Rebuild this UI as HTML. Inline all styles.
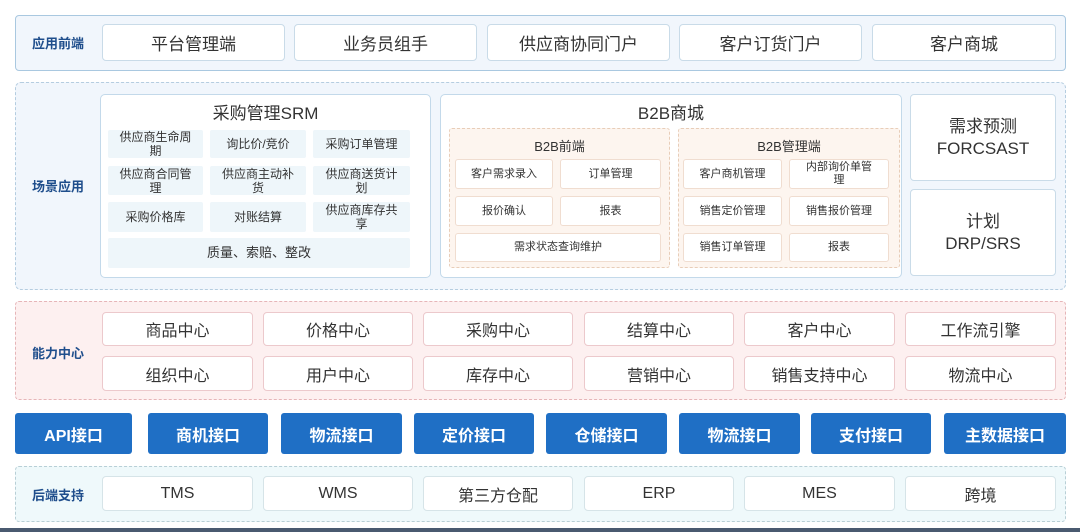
<!DOCTYPE html>
<html><head><meta charset="utf-8"><style>
*{margin:0;padding:0;box-sizing:border-box}
body{width:1080px;height:532px;background:#fff;position:relative;overflow:hidden;font-family:"Liberation Sans","Noto Sans CJK SC",sans-serif;color:#333}
.a{position:absolute;display:flex;align-items:center;justify-content:center;text-align:center}
.c{position:absolute}
.w{background:#fff;border:1px solid #c9dbe8;border-radius:4px;font-size:17px;color:#333}
.lab{font-size:13px;font-weight:bold;color:#1f4e8c}
.s{background:#eef6fa;border-radius:2px;font-size:12px;line-height:14px;color:#333;padding:0 8px}
.o{background:#fff;border:1px solid #f0ddd0;border-radius:3px;font-size:11px;line-height:13px;padding:0 8px}
.b{background:#1f6fc5;color:#fff;border-radius:3px;font-size:16px;font-weight:bold}
.p{background:#fff;border:1px solid #ecc9cc;border-radius:4px;font-size:16px}
.t{background:#fff;border:1px solid #d6e4e8;border-radius:4px;font-size:16px}
</style></head><body>
<div class="c" style="left:15px;top:15px;width:1051px;height:56px;background:#f1f6fc;border:1px solid #a9c8e0;border-radius:4px"></div>
<div class="a lab" style="left:15px;top:24px;width:86px;height:37px">应用前端</div>
<div class="a w" style="left:102px;top:24px;width:183px;height:37px">平台管理端</div>
<div class="a w" style="left:294px;top:24px;width:183px;height:37px">业务员组手</div>
<div class="a w" style="left:487px;top:24px;width:183px;height:37px">供应商协同门户</div>
<div class="a w" style="left:679px;top:24px;width:183px;height:37px">客户订货门户</div>
<div class="a w" style="left:872px;top:24px;width:184px;height:37px">客户商城</div>

<div class="c" style="left:15px;top:82px;width:1051px;height:208px;background:#f1f6fc;border:1px dashed #b5cde0;border-radius:6px"></div>
<div class="a lab" style="left:15px;top:170px;width:86px;height:30px">场景应用</div>
<div class="c" style="left:100px;top:94px;width:331px;height:184px;background:#fff;border:1px solid #c3d9ea;border-radius:5px"></div>
<div class="a" style="left:100px;top:100px;width:331px;height:22px;font-size:17px">采购管理SRM</div>
<div class="a s" style="left:108px;top:130px;width:95px;height:28px">供应商生命周期</div>
<div class="a s" style="left:210px;top:130px;width:96px;height:28px">询比价/竞价</div>
<div class="a s" style="left:313px;top:130px;width:97px;height:28px">采购订单管理</div>
<div class="a s" style="left:108px;top:166px;width:95px;height:29px">供应商合同管理</div>
<div class="a s" style="left:210px;top:166px;width:96px;height:29px;padding:0 12px">供应商主动补货</div>
<div class="a s" style="left:313px;top:166px;width:97px;height:29px">供应商送货计划</div>
<div class="a s" style="left:108px;top:202px;width:95px;height:30px">采购价格库</div>
<div class="a s" style="left:210px;top:202px;width:96px;height:30px">对账结算</div>
<div class="a s" style="left:313px;top:202px;width:97px;height:30px">供应商库存共享</div>
<div class="a s" style="left:108px;top:238px;width:302px;height:30px;font-size:13px">质量、索赔、整改</div>

<div class="c" style="left:440px;top:94px;width:462px;height:184px;background:#fff;border:1px solid #c3d9ea;border-radius:5px"></div>
<div class="a" style="left:440px;top:100px;width:462px;height:22px;font-size:17px">B2B商城</div>
<div class="c" style="left:449px;top:128px;width:221px;height:140px;background:#fdf5ef;border:1px dashed #e8cdb8;border-radius:3px"></div>
<div class="a" style="left:449px;top:136px;width:221px;height:18px;font-size:13px">B2B前端</div>
<div class="a o" style="left:455px;top:159px;width:98px;height:30px">客户需求录入</div>
<div class="a o" style="left:560px;top:159px;width:101px;height:30px">订单管理</div>
<div class="a o" style="left:455px;top:196px;width:98px;height:30px">报价确认</div>
<div class="a o" style="left:560px;top:196px;width:101px;height:30px">报表</div>
<div class="a o" style="left:455px;top:233px;width:206px;height:29px">需求状态查询维护</div>
<div class="c" style="left:678px;top:128px;width:222px;height:140px;background:#fdf5ef;border:1px dashed #e8cdb8;border-radius:3px"></div>
<div class="a" style="left:678px;top:136px;width:222px;height:18px;font-size:13px">B2B管理端</div>
<div class="a o" style="left:683px;top:159px;width:99px;height:30px">客户商机管理</div>
<div class="a o" style="left:789px;top:159px;width:100px;height:30px;padding:0 14px">内部询价单管理</div>
<div class="a o" style="left:683px;top:196px;width:99px;height:30px">销售定价管理</div>
<div class="a o" style="left:789px;top:196px;width:100px;height:30px">销售报价管理</div>
<div class="a o" style="left:683px;top:233px;width:99px;height:29px">销售订单管理</div>
<div class="a o" style="left:789px;top:233px;width:100px;height:29px">报表</div>

<div class="a w" style="left:910px;top:94px;width:146px;height:87px;font-size:17px;line-height:22px">需求预测<br>FORCSAST</div>
<div class="a w" style="left:910px;top:189px;width:146px;height:87px;font-size:17px;line-height:22px">计划<br>DRP/SRS</div>

<div class="c" style="left:15px;top:301px;width:1051px;height:99px;background:#fdf0f0;border:1px dashed #e6b5b8;border-radius:4px"></div>
<div class="a lab" style="left:15px;top:340px;width:86px;height:24px">能力中心</div>
<div class="a p" style="left:102px;top:312px;width:151px;height:34px">商品中心</div>
<div class="a p" style="left:263px;top:312px;width:150px;height:34px">价格中心</div>
<div class="a p" style="left:423px;top:312px;width:150px;height:34px">采购中心</div>
<div class="a p" style="left:584px;top:312px;width:150px;height:34px">结算中心</div>
<div class="a p" style="left:744px;top:312px;width:151px;height:34px">客户中心</div>
<div class="a p" style="left:905px;top:312px;width:151px;height:34px">工作流引擎</div>
<div class="a p" style="left:102px;top:356px;width:151px;height:35px">组织中心</div>
<div class="a p" style="left:263px;top:356px;width:150px;height:35px">用户中心</div>
<div class="a p" style="left:423px;top:356px;width:150px;height:35px">库存中心</div>
<div class="a p" style="left:584px;top:356px;width:150px;height:35px">营销中心</div>
<div class="a p" style="left:744px;top:356px;width:151px;height:35px">销售支持中心</div>
<div class="a p" style="left:905px;top:356px;width:151px;height:35px">物流中心</div>

<div class="a b" style="left:15px;top:413px;width:117px;height:41px">API接口</div>
<div class="a b" style="left:148px;top:413px;width:120px;height:41px">商机接口</div>
<div class="a b" style="left:281px;top:413px;width:121px;height:41px">物流接口</div>
<div class="a b" style="left:414px;top:413px;width:120px;height:41px">定价接口</div>
<div class="a b" style="left:546px;top:413px;width:121px;height:41px">仓储接口</div>
<div class="a b" style="left:679px;top:413px;width:121px;height:41px">物流接口</div>
<div class="a b" style="left:811px;top:413px;width:120px;height:41px">支付接口</div>
<div class="a b" style="left:944px;top:413px;width:122px;height:41px">主数据接口</div>

<div class="c" style="left:15px;top:466px;width:1051px;height:56px;background:#eff9fb;border:1px dashed #b8cfd6;border-radius:4px"></div>
<div class="a lab" style="left:15px;top:482px;width:86px;height:24px">后端支持</div>
<div class="a t" style="left:102px;top:476px;width:151px;height:35px">TMS</div>
<div class="a t" style="left:263px;top:476px;width:150px;height:35px">WMS</div>
<div class="a t" style="left:423px;top:476px;width:150px;height:35px">第三方仓配</div>
<div class="a t" style="left:584px;top:476px;width:150px;height:35px">ERP</div>
<div class="a t" style="left:744px;top:476px;width:151px;height:35px">MES</div>
<div class="a t" style="left:905px;top:476px;width:151px;height:35px">跨境</div>
<div class="c" style="left:0;top:528px;width:1080px;height:4px;background:#4a5a70"></div>
</body></html>
